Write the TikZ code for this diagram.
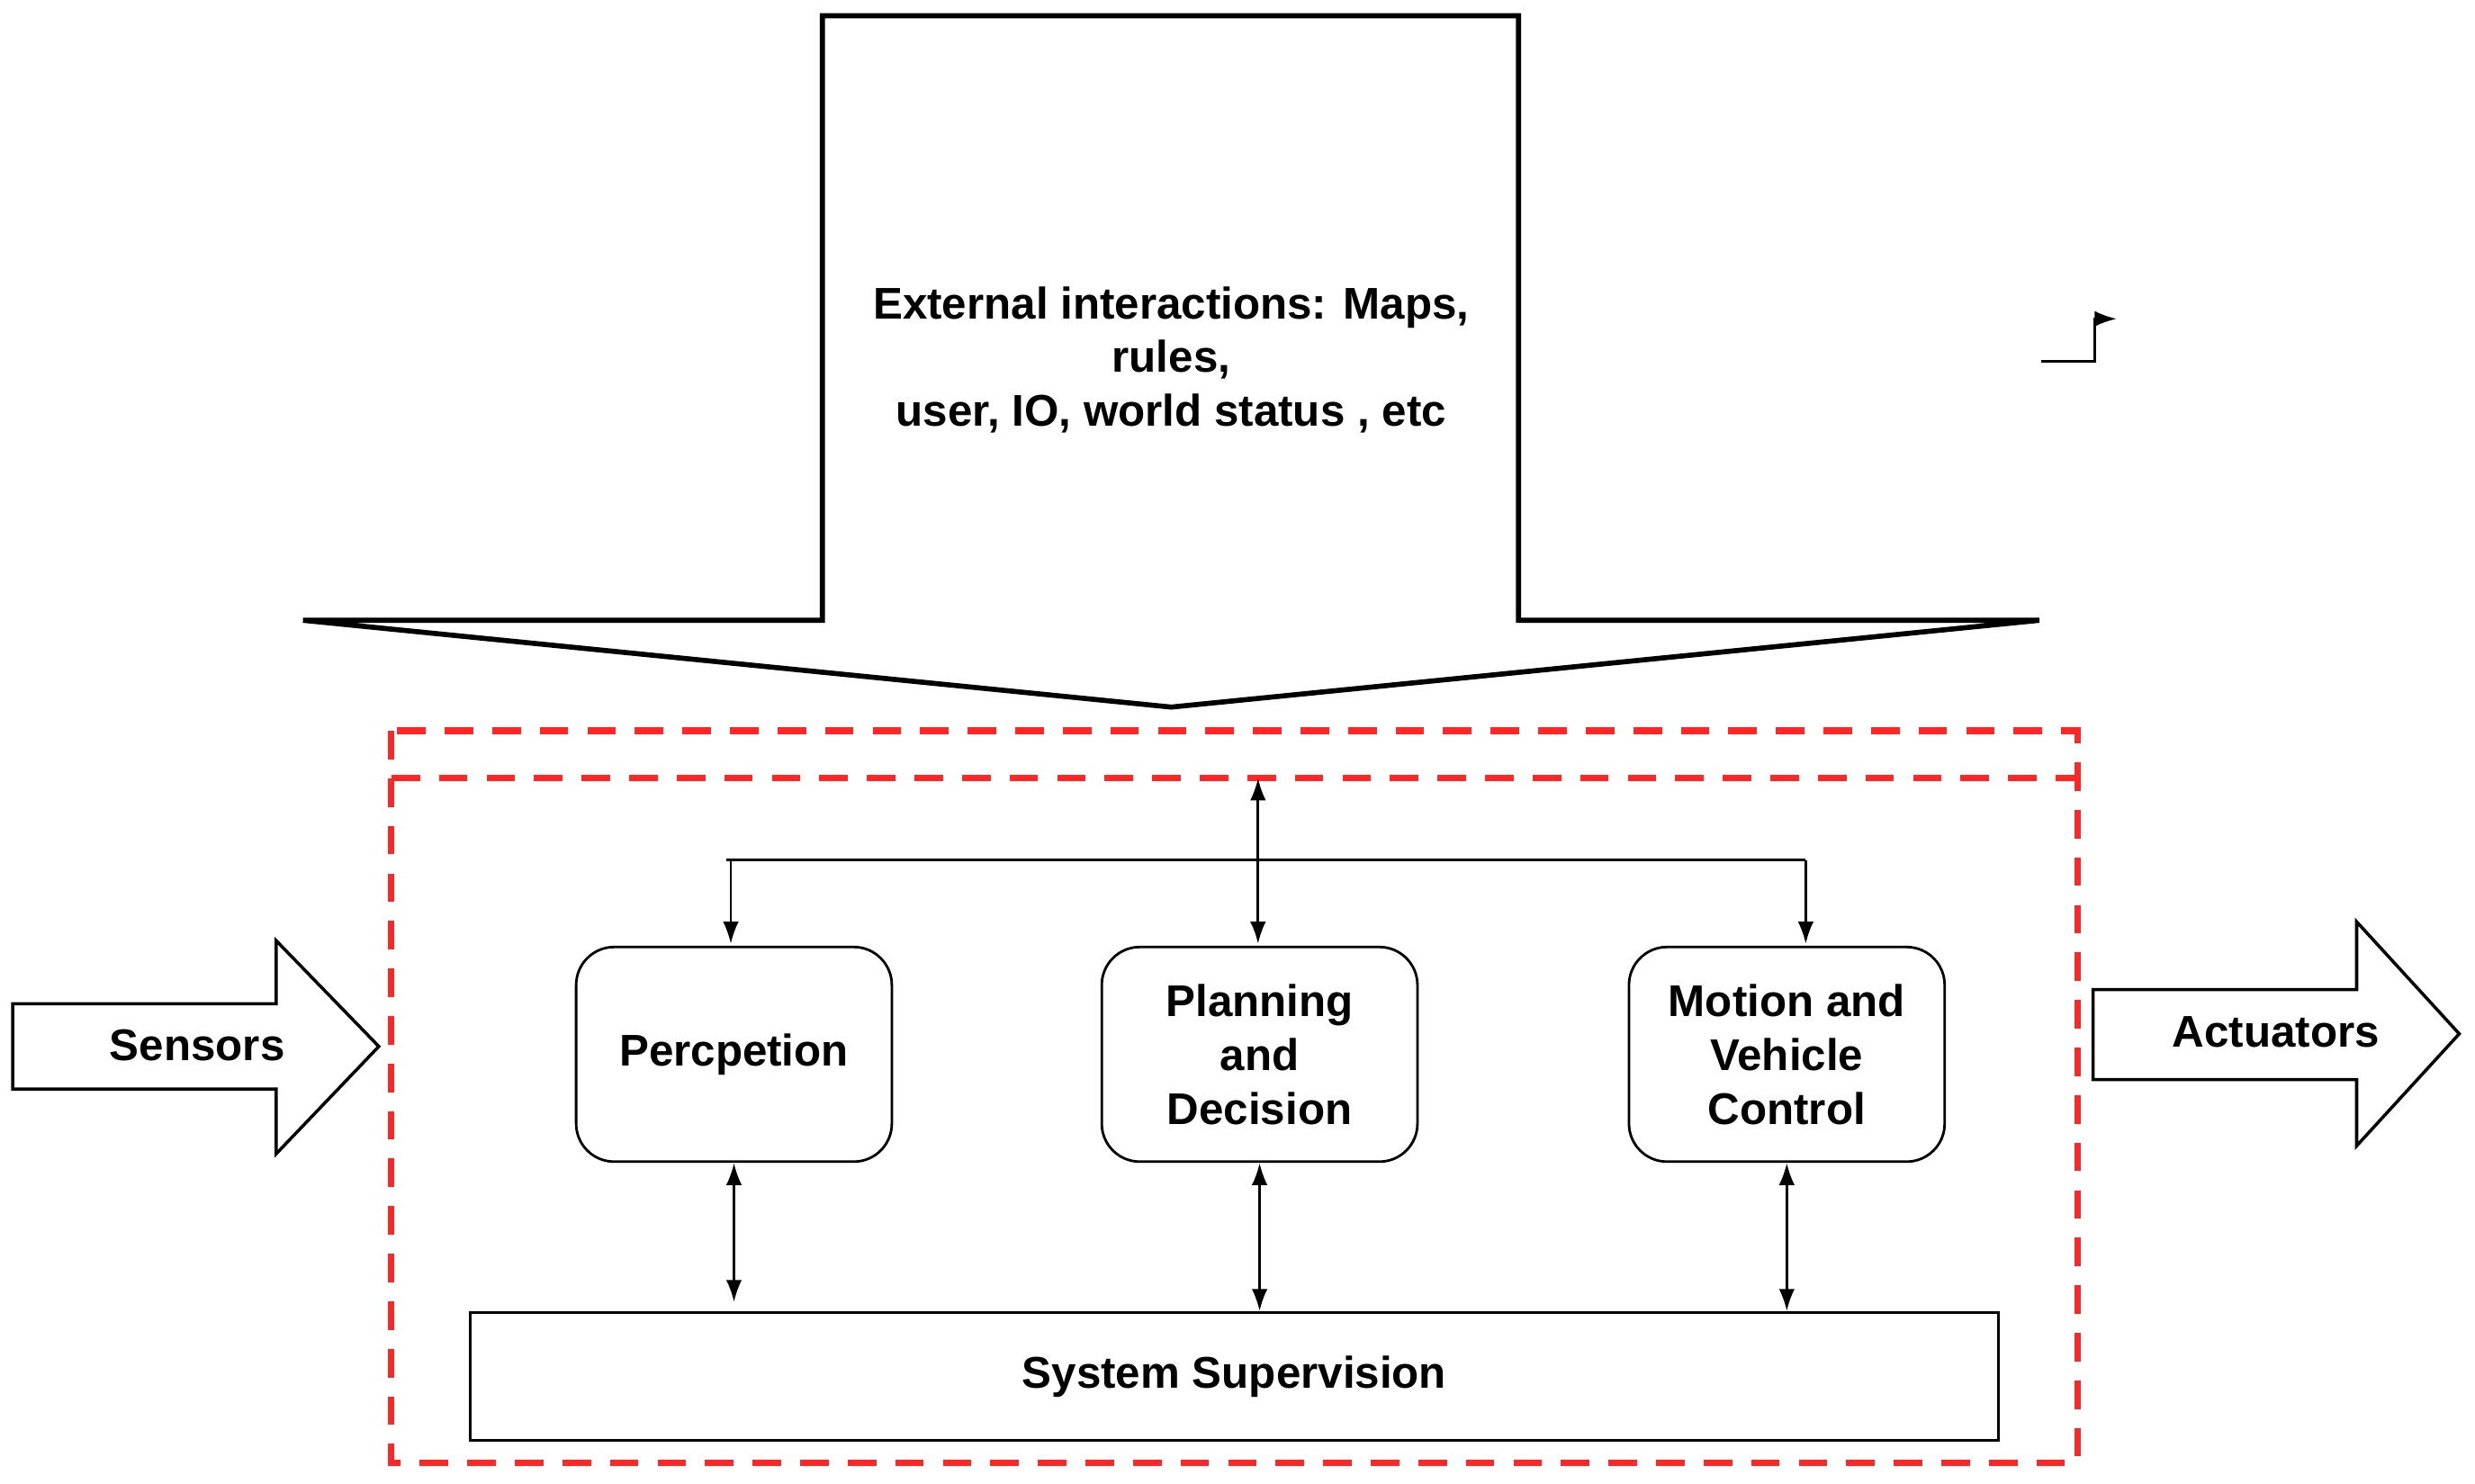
\documentclass[tikz,border=0pt]{standalone}
\usepackage{fontspec}
\setmainfont{Liberation Sans}
\usetikzlibrary{arrows.meta}
\begin{document}
\begin{tikzpicture}[x=0.0175cm,y=-0.0175cm,
  lbl/.style={font=\fontsize{14}{17}\selectfont\bfseries,align=center},
  box/.style={draw,line width=0.8pt,rounded corners=12pt,minimum width=200*0.0175cm,minimum height=136*0.0175cm,lbl},
  con/.style={line width=0.8pt,{Latex[length=7pt,width=5pt]}-{Latex[length=7pt,width=5pt]}},
  one/.style={line width=0.8pt,-{Latex[length=7pt,width=5pt]}},
  blockarrow/.style={draw,line width=1pt,fill=white}]
\useasboundingbox (0,0) rectangle (1568,940);
% big arrow
\draw[line width=1.6pt] (521,10) -- (962,10) -- (962,393) -- (1292,393) -- (742,448) -- (192,393) -- (521,393) -- cycle;
\node[lbl] (ext) at (742,228) {External interactions: Maps,\\rules,\\user, IO, world status , etc};
% small arrow
\coordinate (s0) at (1293,229); \coordinate (s1) at (1341,202);
\draw[one] (s0) -- (1327,229) -- (1327,202) -- (s1);
% red dashed
\draw[red!85!white,line width=2pt,dash pattern=on 9pt off 6pt] (248,463) rectangle (1316,927);
\draw[red!85!white,line width=2pt,dash pattern=on 9pt off 6pt] (248,493) -- (1316,493);
% sensors / actuators
\draw[blockarrow] (8,636) -- (175,636) -- (175,596) -- (240,663) -- (175,731) -- (175,690) -- (8,690) -- cycle;
\node[lbl] (sen) at (125,662) {Sensors};
\draw[blockarrow] (1326,627) -- (1493,627) -- (1493,584) -- (1558,655) -- (1493,726) -- (1493,684) -- (1326,684) -- cycle;
\node[lbl] (act) at (1442,654) {Actuators};
% boxes
\node[box] (per) at (465,668) {Percpetion};
\node[box] (pla) at (798,668) {Planning\\and\\Decision};
\node[box] (mot) at (1132,668) {Motion and\\Vehicle\\Control};
\node[draw,line width=0.8pt,minimum width=968*0.0175cm,minimum height=81*0.0175cm,lbl] (sup) at (782,872) {System Supervision};
% bus
\coordinate (top) at (797,493);
\coordinate (bl) at (460,545); \coordinate (br) at (1144,545);
\draw[line width=0.8pt] (bl) -- (br);
\draw[one] (463,545) -- (463,598);
\draw[one] (br) -- (1144,598);
\draw[con] (top) -- (797,598);
\draw[con] (per.south) -- (per.south |- 0,825);
\draw[con] (pla.south) -- (pla.south |- sup.north);
\draw[con] (mot.south) -- (mot.south |- sup.north);
\end{tikzpicture}
\end{document}
